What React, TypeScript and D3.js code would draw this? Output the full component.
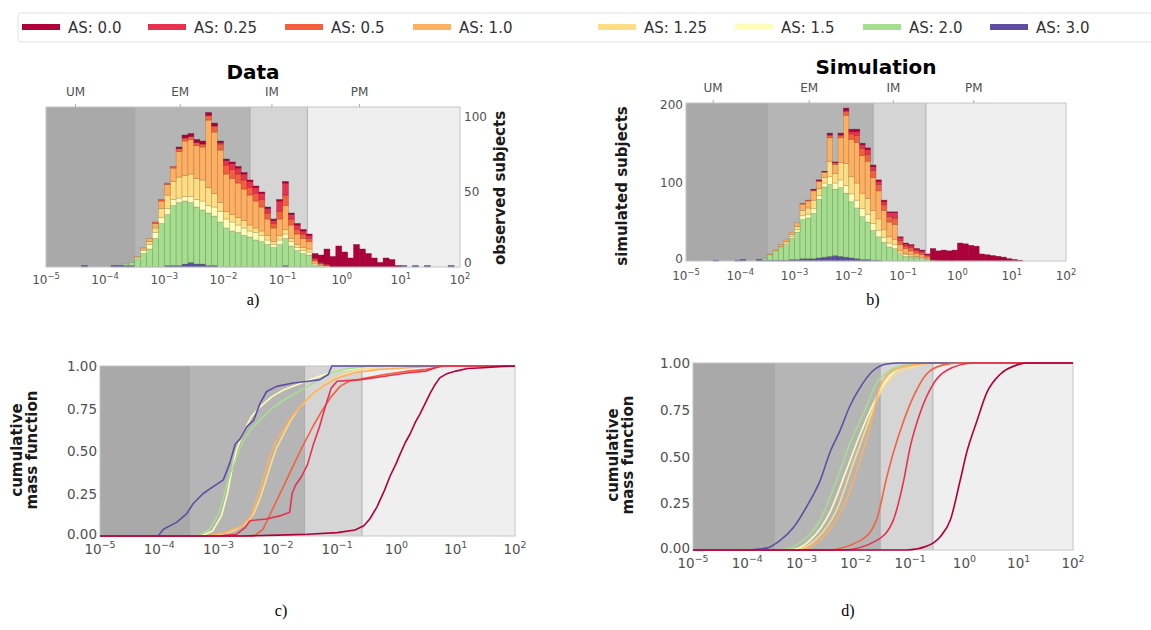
import React, { useEffect, useRef } from 'react';
import * as d3 from 'd3';

const FONT = '"DejaVu Sans", Verdana, sans-serif';
const SERIF = '"Liberation Serif", "Times New Roman", serif';

// legend / series keys, in legend order
const AS_KEYS = ['0.0', '0.25', '0.5', '1.0', '1.25', '1.5', '2.0', '3.0'];
const AS_COLORS = ['#b0003c', '#e8304f', '#f4603f', '#fdb062', '#fedd84', '#fdfcb9', '#a5de8e', '#5e4fa2'];

// maturity regions on the log10 axis
const REGION_NAMES = ['UM', 'EM', 'IM', 'PM'];
const REGION_EDGES = [-5, -3.5, -1.55, -0.58, 2];
const REGION_LABEL_AT = [-4.5, -2.73, -1.18, 0.3];
const REGION_FILLS = ['#a9a9a9', '#b5b5b5', '#d5d5d5', '#efefef'];

const X_TICKS = [-5, -4, -3, -2, -1, 0, 1, 2];

// histogram bins: left edge = BIN_START + i * BIN_STEP (log10)
const BIN_START = -4.5;
const BIN_STEP = 0.1;

// ---- a) observed subjects per bin ----
const obs00 = [0,0,0,0,0,0,0,0,0,0, 0,0,0,0,0,0,0,1,2,2, 2,2,2,2,1,1,1,1,1,1, 1,1,1,1,1,1,1,1,1,1, 3,5,10,7,14,10,6,15,12,9, 6,3,6,5,1,0,0,0,0,0, 0,0,0,0,0];
const obs025 = [0,0,0,0,0,0,0,0,0,0, 0,0,0,0,0,0,0,0,0,0, 0,0,0,0,1,3,4,4,4,4, 4,4,3,2,7,8,3,3,2,2, 1,1,1,0,0,0,0,0,0,0, 0,0,0,0,0,0,0,0,0,0, 0,0,0,0,0];
const obs05 = [0,0,0,0,0,0,0,0,0,0, 0,0,0,1,1,1,1,2,2,2, 2,2,3,4,4,6,6,6,6,5, 5,5,4,3,5,7,4,3,3,2, 1,0,0,0,0,0,0,0,0,0, 0,0,0,0,0,0,0,0,0,0, 0,0,0,0,0];
const obs10 = [0,0,0,0,0,0,0,0,0,0, 1,1,2,3,5,7,9,17,23,23, 22,22,45,41,35,25,24,23,21,20, 18,16,11,9,11,16,9,7,6,5, 2,1,1,0,0,0,0,0,0,0, 0,0,0,0,0,0,0,0,0,0, 0,0,0,0,0];
const obs125 = [0,0,0,0,0,0,0,0,0,0, 0,1,2,3,6,9,12,14,14,15, 14,14,12,9,6,5,5,5,5,4, 3,3,3,2,3,3,2,2,2,2, 0,0,0,0,0,0,0,0,0,0, 0,0,0,0,0,0,0,0,0,0, 0,0,0,0,0];
const obs15 = [0,0,0,0,0,0,0,0,0,0, 1,2,3,4,4,4,4,3,3,4, 5,6,5,6,7,6,6,5,5,4, 5,4,3,2,3,3,3,2,2,2, 1,0,0,0,0,0,0,0,0,0, 0,0,0,0,0,0,0,0,0,0, 0,0,0,0,0];
const obs20 = [0,0,0,0,0,0,0,0,1,2, 5,9,12,19,29,34,40,42,42,40, 38,36,35,33,30,26,24,23,21,20, 18,17,15,13,15,18,14,11,9,8, 1,1,0,0,0,0,0,0,0,0, 0,0,0,0,0,0,0,0,0,0, 0,0,0,0,0];
const obs30 = [0,1,0,0,0,0,1,1,1,1, 0,0,0,0,0,1,1,1,2,3, 2,2,1,1,0,0,0,0,0,0, 0,0,0,0,0,1,0,0,0,0, 0,0,0,0,0,0,0,0,0,0, 0,0,0,0,0,1,0,1,0,1, 0,0,0,1,0];

// ---- b) simulated subjects per bin ----
const sim00 = [0,0,0,0,0,0,0,0,0,0, 0,0,0,0,0,0,0,0,1,1, 1,2,1,2,3,3,3,2,2,2, 2,2,1,1,1,1,1,1,1,1, 14,12,14,13,14,23,22,20,19,9, 8,7,6,5,3,2,1,0,0,0, 0,0,0,0,0];
const sim025 = [0,0,0,0,0,0,0,0,0,0, 0,0,0,0,0,0,0,0,0,0, 0,1,0,1,1,3,5,5,6,5, 4,4,5,7,4,3,3,2,2,1, 1,1,0,0,0,0,0,0,0,0, 0,0,0,0,0,0,0,0,0,0, 0,0,0,0,0];
const sim05 = [0,0,0,0,0,0,0,0,0,0, 0,0,0,0,0,0,1,1,1,1, 0,3,2,3,5,7,9,9,9,9, 8,7,7,8,5,3,4,3,3,2, 1,0,0,0,0,0,0,0,0,0, 0,0,0,0,0,0,0,0,0,0, 0,0,0,0,0];
const sim10 = [0,0,0,0,0,0,0,0,0,0, 1,1,2,2,3,5,8,9,12,9, 7,30,12,32,62,48,52,48,48,42, 36,25,19,19,8,6,5,4,3,2, 0,0,0,0,0,0,0,0,0,0, 0,0,0,0,0,0,0,0,0,0, 0,0,0,0,0];
const sim125 = [0,0,0,0,0,0,0,0,0,0, 0,0,1,2,3,4,7,8,11,9, 7,20,12,22,28,22,22,20,20,17, 15,10,8,7,3,2,2,1,1,1, 0,0,0,0,0,0,0,0,0,0, 0,0,0,0,0,0,0,0,0,0, 0,0,0,0,0];
const sim15 = [0,0,0,0,0,0,0,0,0,0, 0,1,1,2,2,3,5,5,6,5, 5,10,8,10,10,10,10,10,10,9, 8,6,5,5,2,2,1,1,1,0, 0,0,0,0,0,0,0,0,0,0, 0,0,0,0,0,0,0,0,0,0, 0,0,0,0,0];
const sim20 = [0,0,0,0,0,0,0,0,0,2, 7,11,16,20,27,35,50,52,58,75, 90,92,85,88,82,72,65,55,48,38, 30,24,18,16,8,6,5,4,3,2, 0,0,0,0,0,0,0,0,0,0, 0,0,0,0,0,0,0,0,0,0, 0,0,0,0,0];
const sim30 = [1,0,0,0,1,2,0,0,2,1, 1,1,1,1,2,2,3,3,3,4, 5,6,7,6,5,4,3,2,2,1, 1,0,0,0,0,0,0,0,0,0, 0,0,0,0,0,0,0,0,0,0, 0,0,0,0,0,0,0,0,0,0, 0,0,0,0,0];

// ---- c) empirical cumulative mass function, [log10 x, cdf] ----
const cdfObs00 = [[-5,0],[-2.6,0],[-2.0,0.005],[-1.5,0.01],[-1.0,0.02],[-0.7,0.035],[-0.55,0.06],[-0.45,0.1],[-0.33,0.17],[-0.2,0.27],[-0.11,0.35],[0.0,0.43],[0.06,0.48],[0.15,0.55],[0.23,0.6],[0.32,0.67],[0.4,0.72],[0.5,0.79],[0.57,0.84],[0.65,0.89],[0.73,0.93],[0.85,0.955],[1.0,0.97],[1.2,0.985],[1.46,0.99],[1.8,0.998],[2,1]];
const cdfObs025 = [[-5,0],[-3.0,0],[-2.7,0.01],[-2.55,0.05],[-2.47,0.09],[-2.2,0.1],[-1.95,0.12],[-1.8,0.14],[-1.76,0.25],[-1.7,0.3],[-1.6,0.35],[-1.5,0.42],[-1.4,0.54],[-1.3,0.64],[-1.2,0.76],[-1.1,0.87],[-1.0,0.91],[-0.6,0.92],[-0.2,0.94],[0.2,0.96],[0.5,0.97],[0.75,1],[2,1]];
const cdfObs05 = [[-5,0],[-2.4,0],[-2.25,0.04],[-2.1,0.15],[-1.95,0.26],[-1.8,0.37],[-1.65,0.48],[-1.55,0.55],[-1.4,0.65],[-1.25,0.74],[-1.1,0.82],[-0.95,0.88],[-0.8,0.91],[-0.5,0.93],[-0.2,0.95],[0.2,0.97],[0.5,0.98],[0.8,1],[2,1]];
const cdfObs10 = [[-5,0],[-3.2,0],[-2.9,0.02],[-2.6,0.06],[-2.45,0.12],[-2.35,0.22],[-2.25,0.33],[-2.15,0.45],[-2.05,0.55],[-1.9,0.63],[-1.75,0.71],[-1.6,0.77],[-1.4,0.84],[-1.2,0.89],[-1.0,0.93],[-0.7,0.96],[-0.3,0.98],[0.2,0.99],[0.7,1],[2,1]];
const cdfObs125 = [[-5,0],[-3.1,0],[-2.75,0.03],[-2.55,0.07],[-2.41,0.13],[-2.3,0.22],[-2.19,0.34],[-2.1,0.44],[-2.02,0.52],[-1.9,0.6],[-1.8,0.67],[-1.65,0.75],[-1.5,0.8],[-1.3,0.87],[-1.1,0.92],[-0.9,0.95],[-0.6,0.98],[-0.2,0.995],[0.3,1],[2,1]];
const cdfObs15 = [[-5,0],[-3.3,0],[-3.1,0.03],[-2.95,0.12],[-2.85,0.25],[-2.78,0.38],[-2.7,0.5],[-2.6,0.6],[-2.45,0.7],[-2.3,0.76],[-2.1,0.82],[-1.9,0.86],[-1.6,0.9],[-1.3,0.94],[-1.0,0.97],[-0.6,0.99],[-0.2,1],[2,1]];
const cdfObs20 = [[-5,0],[-3.35,0],[-3.15,0.04],[-3.0,0.13],[-2.9,0.25],[-2.8,0.37],[-2.7,0.46],[-2.6,0.55],[-2.45,0.63],[-2.3,0.68],[-2.1,0.75],[-1.9,0.8],[-1.7,0.84],[-1.5,0.88],[-1.3,0.92],[-1.1,0.96],[-0.8,0.985],[-0.4,1],[2,1]];
const cdfObs30 = [[-5,0],[-4.02,0],[-3.93,0.04],[-3.71,0.08],[-3.54,0.13],[-3.43,0.19],[-3.26,0.25],[-3.09,0.29],[-2.92,0.33],[-2.81,0.43],[-2.72,0.54],[-2.64,0.57],[-2.53,0.64],[-2.41,0.68],[-2.3,0.78],[-2.19,0.85],[-2.02,0.88],[-1.74,0.9],[-1.49,0.91],[-1.29,0.92],[-1.15,0.95],[-1.09,1],[2,1]];

// ---- d) simulated cumulative mass function, [log10 x, cdf] ----
const cdfSim00 = [[-5,0],[-1.06,0],[-0.7,0.02],[-0.45,0.07],[-0.26,0.16],[-0.08,0.37],[0.04,0.52],[0.23,0.69],[0.41,0.84],[0.66,0.94],[0.97,0.99],[1.15,1],[2,1]];
const cdfSim025 = [[-5,0],[-2.23,0],[-1.62,0.05],[-1.31,0.16],[-1.12,0.37],[-1.0,0.55],[-0.82,0.73],[-0.57,0.89],[-0.33,0.96],[0.17,1],[2,1]];
const cdfSim05 = [[-5,0],[-2.54,0],[-1.92,0.05],[-1.62,0.16],[-1.43,0.39],[-1.31,0.52],[-1.12,0.69],[-0.94,0.82],[-0.7,0.94],[-0.39,0.99],[-0.08,1],[2,1]];
const cdfSim10 = [[-5,0],[-3.03,0],[-2.6,0.07],[-2.23,0.23],[-1.92,0.48],[-1.71,0.69],[-1.56,0.87],[-1.31,0.96],[-0.94,0.99],[-0.5,1],[2,1]];
const cdfSim125 = [[-5,0],[-3.15,0],[-2.72,0.06],[-2.36,0.21],[-2.05,0.46],[-1.8,0.66],[-1.59,0.82],[-1.31,0.93],[-0.94,0.98],[-0.57,1],[2,1]];
const cdfSim15 = [[-5,0],[-3.22,0],[-2.85,0.05],[-2.48,0.2],[-2.17,0.43],[-1.92,0.62],[-1.68,0.78],[-1.43,0.91],[-1.13,0.98],[-0.76,1],[2,1]];
const cdfSim20 = [[-5,0],[-3.4,0],[-3.03,0.04],[-2.66,0.16],[-2.36,0.37],[-2.11,0.57],[-1.86,0.73],[-1.62,0.89],[-1.37,0.96],[-1.06,0.99],[-0.7,1],[2,1]];
const cdfSim30 = [[-5,0],[-4.14,0],[-3.65,0.01],[-3.4,0.05],[-3.15,0.12],[-2.91,0.23],[-2.66,0.37],[-2.48,0.52],[-2.29,0.64],[-2.11,0.77],[-1.92,0.87],[-1.68,0.96],[-1.43,0.995],[-1.2,1],[2,1]];

const obsSeries = [obs00, obs025, obs05, obs10, obs125, obs15, obs20, obs30];
const simSeries = [sim00, sim025, sim05, sim10, sim125, sim15, sim20, sim30];
const obsCdf = [cdfObs00, cdfObs025, cdfObs05, cdfObs10, cdfObs125, cdfObs15, cdfObs20, cdfObs30];
const simCdf = [cdfSim00, cdfSim025, cdfSim05, cdfSim10, cdfSim125, cdfSim15, cdfSim20, cdfSim30];

type Box = { left: number; right: number; top: number; bottom: number };

function drawRegions(g: any, x: any, box: Box) {
  REGION_NAMES.forEach((name, i) => {
    g.append('rect')
      .attr('x', x(10 ** REGION_EDGES[i]))
      .attr('y', box.top)
      .attr('width', x(10 ** REGION_EDGES[i + 1]) - x(10 ** REGION_EDGES[i]))
      .attr('height', box.bottom - box.top)
      .attr('fill', REGION_FILLS[i]);
    if (i > 0) {
      g.append('line')
        .attr('x1', x(10 ** REGION_EDGES[i])).attr('x2', x(10 ** REGION_EDGES[i]))
        .attr('y1', box.top).attr('y2', box.bottom)
        .attr('stroke', '#9a9a9a').attr('stroke-width', 0.7);
    }
  });
}

function drawFrame(g: any, box: Box) {
  g.append('rect')
    .attr('x', box.left).attr('y', box.top)
    .attr('width', box.right - box.left).attr('height', box.bottom - box.top)
    .attr('fill', 'none').attr('stroke', '#c4c4c4').attr('stroke-width', 1);
}

function drawXTicks(g: any, x: any, y0: number, size: number) {
  X_TICKS.forEach(e => {
    const t = g.append('text')
      .attr('x', x(10 ** e)).attr('y', y0)
      .attr('text-anchor', 'middle')
      .attr('font-family', FONT).attr('font-size', size).attr('fill', '#505050');
    t.append('tspan').text('10');
    t.append('tspan').attr('dy', -size * 0.45).attr('font-size', size * 0.7)
      .text(e < 0 ? '\u2212' + Math.abs(e) : String(e));
  });
}

function drawRegionLabels(g: any, x: any, box: Box, y0: number) {
  REGION_NAMES.forEach((name, i) => {
    const px = x(10 ** REGION_LABEL_AT[i]);
    g.append('text').attr('x', px).attr('y', y0)
      .attr('text-anchor', 'middle').attr('font-family', FONT)
      .attr('font-size', 12).attr('fill', '#505050').text(name);
    g.append('line').attr('x1', px).attr('x2', px)
      .attr('y1', box.top).attr('y2', box.top - 3)
      .attr('stroke', '#9a9a9a').attr('stroke-width', 0.8);
  });
}

function drawHist(svg: any, box: Box, yMax: number, series: number[][], yTicks: number[], right: boolean) {
  const g = svg.append('g');
  const x = d3.scaleLog().domain([1e-5, 1e2]).range([box.left, box.right]);
  const y = d3.scaleLinear().domain([0, yMax]).range([box.bottom, box.top]);
  drawRegions(g, x, box);

  const rows = series[0].map((_, i) => {
    const r: any = { e: BIN_START + i * BIN_STEP };
    AS_KEYS.forEach((k, j) => { r[k] = series[j][i]; });
    return r;
  });
  const layers = d3.stack().keys([...AS_KEYS].reverse())(rows);
  layers.forEach((layer: any) => {
    const color = AS_COLORS[AS_KEYS.indexOf(layer.key)];
    g.selectAll(null)
      .data(layer.filter((d: any) => d[1] > d[0]))
      .enter().append('rect')
      .attr('x', (d: any) => x(10 ** d.data.e))
      .attr('width', (d: any) => x(10 ** (d.data.e + BIN_STEP)) - x(10 ** d.data.e))
      .attr('y', (d: any) => y(d[1]))
      .attr('height', (d: any) => y(d[0]) - y(d[1]))
      .attr('fill', color)
      .attr('stroke', d3.color(color)!.darker(1.3).formatHex())
      .attr('stroke-opacity', 0.6)
      .attr('stroke-width', 0.6);
  });

  drawFrame(g, box);
  yTicks.forEach(v => {
    g.append('text')
      .attr('x', right ? box.right + 4 : box.left - 3)
      .attr('y', y(v) + (v === 0 ? (right ? 0 : 2) : 4))
      .attr('text-anchor', right ? 'start' : 'end')
      .attr('font-family', FONT).attr('font-size', 12).attr('fill', '#505050')
      .text(v);
  });
  return x;
}

function drawCdf(svg: any, box: Box, curves: number[][][], smooth: boolean) {
  const g = svg.append('g');
  const x = d3.scaleLog().domain([1e-5, 1e2]).range([box.left, box.right]);
  const y = d3.scaleLinear().domain([0, 1]).range([box.bottom, box.top]);
  drawRegions(g, x, box);
  drawFrame(g, box);

  const line = d3.line<number[]>()
    .x(d => x(10 ** d[0]))
    .y(d => y(d[1]))
    .curve(smooth ? d3.curveMonotoneX : d3.curveLinear);

  // draw 0.0 last so the dark red stays on top like the reference
  const order = [5, 6, 4, 3, 7, 2, 1, 0];
  order.forEach(i => {
    g.append('path')
      .attr('d', line(curves[i] as any))
      .attr('fill', 'none')
      .attr('stroke', AS_COLORS[i])
      .attr('stroke-width', 1.6)
      .attr('stroke-linejoin', 'round');
  });

  [0, 0.25, 0.5, 0.75, 1].forEach(v => {
    g.append('text')
      .attr('x', box.left - 3).attr('y', y(v) + (v === 0 ? 3 : 5))
      .attr('text-anchor', 'end')
      .attr('font-family', FONT).attr('font-size', 13.5).attr('fill', '#505050')
      .text(v.toFixed(2));
  });
  return x;
}

function rotatedLabel(svg: any, cx: number, cy: number, lines: string[], size: number, gap: number) {
  lines.forEach((s, i) => {
    const px = cx + i * gap;
    svg.append('text')
      .attr('transform', `translate(${px},${cy}) rotate(-90)`)
      .attr('text-anchor', 'middle')
      .attr('font-family', FONT).attr('font-weight', 'bold')
      .attr('font-size', size).attr('fill', '#1a1a1a')
      .text(s);
  });
}

function drawLegend(svg: any) {
  const xs = [22, 148, 285, 413, 598, 735, 863, 990];
  svg.append('rect').attr('x', 18).attr('y', 13).attr('width', 1150).attr('height', 29)
    .attr('fill', '#fff').attr('stroke', '#e2e2e2').attr('rx', 3);
  AS_KEYS.forEach((k, i) => {
    svg.append('rect').attr('x', xs[i]).attr('y', 24).attr('width', 38).attr('height', 6)
      .attr('fill', AS_COLORS[i]);
    svg.append('text').attr('x', xs[i] + 46).attr('y', 32.5)
      .attr('font-family', FONT).attr('font-size', 15).attr('fill', '#333')
      .text('AS: ' + k);
  });
}

function caption(svg: any, cx: number, y0: number, s: string) {
  svg.append('text').attr('x', cx).attr('y', y0).attr('text-anchor', 'middle')
    .attr('font-family', SERIF).attr('font-size', 16).attr('fill', '#000').text(s);
}

export default function App() {
  const ref = useRef<SVGSVGElement>(null);

  useEffect(() => {
    const svg = d3.select(ref.current);
    svg.selectAll('*').remove();

    drawLegend(svg);

    // a) Data
    const boxA = { left: 46, right: 460, top: 107, bottom: 267 };
    const xa = drawHist(svg, boxA, 106.7, obsSeries, [0, 50, 100], true);
    drawXTicks(svg, xa, 284, 12);
    drawRegionLabels(svg, xa, boxA, 96);
    svg.append('text').attr('x', 253).attr('y', 79).attr('text-anchor', 'middle')
      .attr('font-family', FONT).attr('font-weight', 'bold').attr('font-size', 20).text('Data');
    rotatedLabel(svg, 505, 188, ['observed subjects'], 15, 0);
    caption(svg, 253, 305, 'a)');

    // b) Simulation
    const boxB = { left: 686, right: 1066, top: 103, bottom: 261 };
    const xb = drawHist(svg, boxB, 202.6, simSeries, [0, 100, 200], false);
    drawXTicks(svg, xb, 280, 12);
    drawRegionLabels(svg, xb, boxB, 92);
    svg.append('text').attr('x', 876).attr('y', 74).attr('text-anchor', 'middle')
      .attr('font-family', FONT).attr('font-weight', 'bold').attr('font-size', 20).text('Simulation');
    rotatedLabel(svg, 627, 186, ['simulated subjects'], 15, 0);
    caption(svg, 873, 305, 'b)');

    // c) data CMF
    const boxC = { left: 100, right: 515, top: 366, bottom: 536 };
    const xc = drawCdf(svg, boxC, obsCdf, false);
    drawXTicks(svg, xc, 554, 13.5);
    rotatedLabel(svg, 22, 450, ['cumulative', 'mass function'], 15, 15);
    caption(svg, 281, 616, 'c)');

    // d) simulated CMF
    const boxD = { left: 693, right: 1073, top: 363, bottom: 550 };
    const xd = drawCdf(svg, boxD, simCdf, true);
    drawXTicks(svg, xd, 568, 13.5);
    rotatedLabel(svg, 618, 455, ['cumulative', 'mass function'], 15, 15);
    caption(svg, 848, 616, 'd)');
  }, []);

  return (
    <svg ref={ref} width={1151} height={630}
      style={{ position: 'absolute', left: 0, top: 0, background: '#fff' }} />
  );
}
